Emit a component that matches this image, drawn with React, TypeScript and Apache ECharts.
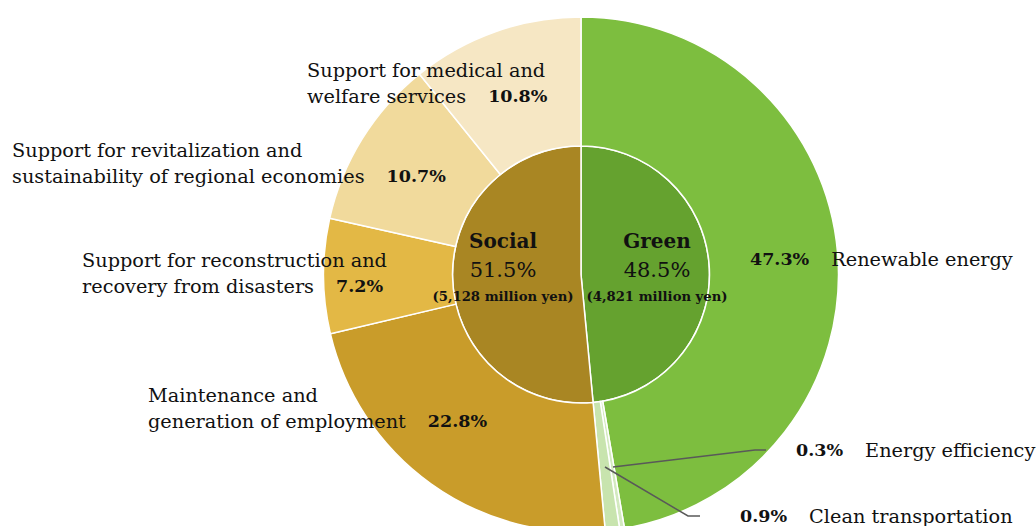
import React, { useEffect, useRef } from "react";
import * as echarts from "echarts";

// ---- data ----
const groupNames = ["Green", "Social"];
const groupShares = [48.5, 51.5];
const groupAmounts = ["(4,821 million yen)", "(5,128 million yen)"];

const categoryNames = [
  "Renewable energy",
  "Energy efficiency",
  "Clean transportation",
  "Maintenance and\ngeneration of employment",
  "Support for reconstruction and\nrecovery from disasters",
  "Support for revitalization and\nsustainability of regional economies",
  "Support for medical and\nwelfare services",
];
const categoryShares = [47.3, 0.3, 0.9, 22.8, 7.2, 10.7, 10.8];

// ---- styles / layout (not data) ----
const groupColors = ["#65A22F", "#A98623"];
const categoryColors = ["#7DBE3F", "#D3EABF", "#C8E4AE", "#C99C2A", "#E3B845", "#F1DA9C", "#F6E7C4"];
const percentFirst = [true, true, true, false, false, false, false];
const labelAnchors: [number, number][] = [
  [750, 259],
  [796, 450],
  [740, 516],
  [148, 408],
  [82, 273],
  [12, 163],
  [307, 83],
];
const leaderLines: number[][][] = [
  [[613, 467], [755, 450], [766, 450]],
  [[605, 467], [688, 516], [700, 516]],
];
const groupLabelAnchors: [number, number][] = [
  [657, 267],
  [503, 267],
];

const SERIF = "'DejaVu Serif', 'Liberation Serif', serif";

export default function App() {
  const ref = useRef<HTMLDivElement>(null);
  useEffect(() => {
    if (!ref.current) return;
    const chart = echarts.init(ref.current, null, { renderer: "svg" });
    const center = [581, 274.5];

    const outerData = categoryNames.map((n, i) => ({
      name: n,
      value: categoryShares[i],
      itemStyle: { color: categoryColors[i] },
    }));
    const innerData = groupNames.map((n, i) => ({
      name: n,
      value: groupShares[i],
      itemStyle: { color: groupColors[i] },
    }));

    chart.setOption({
      animation: false,
      backgroundColor: "#ffffff",
      graphic: leaderLines.map((pts) => ({
        type: "polyline",
        z: 100,
        silent: true,
        shape: { points: pts },
        style: { stroke: "#595959", lineWidth: 1.5, fill: null },
      })),
      series: [
        {
          type: "pie",
          radius: [0, 128.5],
          center,
          startAngle: 90,
          clockwise: true,
          avoidLabelOverlap: false,
          silent: true,
          data: innerData,
          itemStyle: { borderColor: "#ffffff", borderWidth: 1.5 },
          label: {
            show: true,
            position: "inside",
            fontFamily: SERIF,
            color: "#111111",
            formatter: (p: any) => {
              const i = p.dataIndex;
              return `{t|${groupNames[i]}}\n{v|${groupShares[i].toFixed(1)}%}\n{m|${groupAmounts[i]}}`;
            },
            rich: {
              t: { fontFamily: SERIF, fontSize: 20, fontWeight: "bold", lineHeight: 29, color: "#111111" },
              v: { fontFamily: SERIF, fontSize: 21, lineHeight: 29, color: "#111111" },
              m: { fontFamily: SERIF, fontSize: 13.2, fontWeight: "bold", lineHeight: 24, color: "#111111" },
            },
          },
          labelLayout: (params: any) => {
            const a = groupLabelAnchors[params.dataIndex];
            return { x: a[0], y: a[1], align: "center", verticalAlign: "middle" };
          },
        },
        {
          type: "pie",
          radius: [128.5, 257.5],
          center,
          startAngle: 90,
          clockwise: true,
          avoidLabelOverlap: false,
          silent: true,
          minShowLabelAngle: 0,
          data: outerData,
          itemStyle: { borderColor: "#ffffff", borderWidth: 1.5 },
          label: {
            show: true,
            position: "outside",
            fontFamily: SERIF,
            color: "#111111",
            formatter: (p: any) => {
              const i = p.dataIndex;
              const pct = `${categoryShares[i].toFixed(1)}%`;
              if (percentFirst[i]) {
                return `{pf|${pct}}{n|${categoryNames[i]}}`;
              }
              const lines = categoryNames[i].split("\n");
              return lines
                .map((l, k) => (k === lines.length - 1 ? `{n|${l}}{pa|${pct}}` : `{n|${l}}`))
                .join("\n");
            },
            rich: {
              n: { fontFamily: SERIF, fontSize: 19.3, lineHeight: 26, color: "#111111" },
              pa: { fontFamily: SERIF, fontSize: 17.5, fontWeight: "bold", lineHeight: 26, color: "#111111", padding: [0, 0, 0, 22] },
              pf: { fontFamily: SERIF, fontSize: 17.5, fontWeight: "bold", lineHeight: 26, color: "#111111", padding: [0, 22, 0, 0] },
            },
          },
          labelLine: { show: false },
          labelLayout: (params: any) => {
            const a = labelAnchors[params.dataIndex];
            return { x: a[0], y: a[1], align: "left", verticalAlign: "middle" };
          },
        },
      ],
    });
    return () => chart.dispose();
  }, []);
  return (
    <div
      ref={ref}
      style={{ position: "fixed", left: 0, top: 0, width: 1036, height: 526 }}
    />
  );
}
